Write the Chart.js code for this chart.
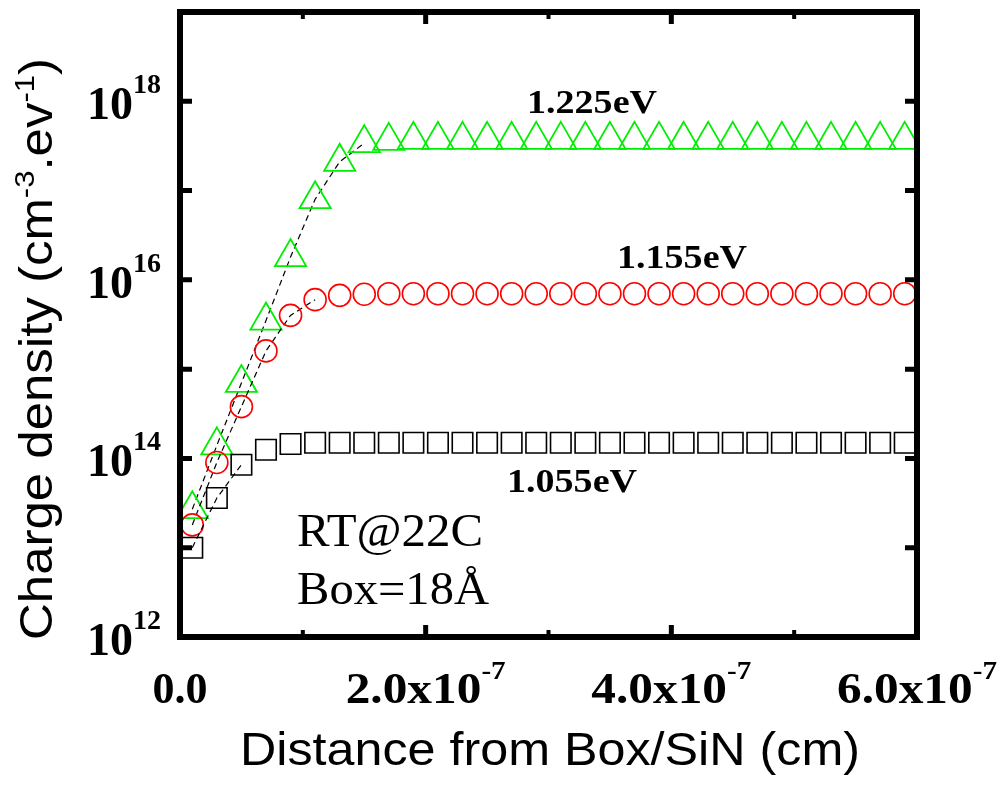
<!DOCTYPE html>
<html>
<head>
<meta charset="utf-8">
<script src="https://cdn.jsdelivr.net/npm/chart.js@4"></script>
<style>
  html, body { margin: 0; padding: 0; background: #fff; }
  #wrap { width: 1003px; height: 787px; }
</style>
</head>
<body>
<div id="wrap"><canvas id="chart" width="1003" height="787"></canvas></div>
<script>
// distance from the Box/SiN interface (cm)
const distance = [
  1e-8, 3e-8, 5e-8, 7e-8, 9e-8, 11e-8, 13e-8, 15e-8, 17e-8, 19e-8,
  21e-8, 23e-8, 25e-8, 27e-8, 29e-8, 31e-8, 33e-8, 35e-8, 37e-8, 39e-8,
  41e-8, 43e-8, 45e-8, 47e-8, 49e-8, 51e-8, 53e-8, 55e-8, 57e-8, 59e-8
];

// charge density (cm-3.eV-1) at each trap energy
const density1055 = [
  1.0e13, 3.6e13, 8.5e13, 1.25e14, 1.45e14, 1.5e14, 1.5e14, 1.5e14, 1.5e14, 1.5e14,
  1.5e14, 1.5e14, 1.5e14, 1.5e14, 1.5e14, 1.5e14, 1.5e14, 1.5e14, 1.5e14, 1.5e14,
  1.5e14, 1.5e14, 1.5e14, 1.5e14, 1.5e14, 1.5e14, 1.5e14, 1.5e14, 1.5e14, 1.5e14
];
const density1155 = [
  1.8e13, 9.0e13, 3.8e14, 1.6e15, 4.0e15, 6.0e15, 6.7e15, 6.9e15, 7.0e15, 7.0e15,
  7.0e15, 7.0e15, 7.0e15, 7.0e15, 7.0e15, 7.0e15, 7.0e15, 7.0e15, 7.0e15, 7.0e15,
  7.0e15, 7.0e15, 7.0e15, 7.0e15, 7.0e15, 7.0e15, 7.0e15, 7.0e15, 7.0e15, 7.0e15
];
const density1225 = [
  2.7e13, 1.4e14, 7.0e14, 3.5e15, 1.8e16, 8.0e16, 2.1e17, 3.4e17, 3.6e17, 3.7e17,
  3.7e17, 3.7e17, 3.7e17, 3.7e17, 3.7e17, 3.7e17, 3.7e17, 3.7e17, 3.7e17, 3.7e17,
  3.7e17, 3.7e17, 3.7e17, 3.7e17, 3.7e17, 3.7e17, 3.7e17, 3.7e17, 3.7e17, 3.7e17
];

const seriesLabels = ['1.055eV', '1.155eV', '1.225eV'];
const yTickExponents = ['12', '14', '16', '18'];
const xTickValues = [0, 2e-7, 4e-7, 6e-7];
const xTickMantissa = ['0.0', '2.0x10', '4.0x10', '6.0x10'];
const xTickExponent = ['', '-7', '-7', '-7'];

const SERIF = '"Liberation Serif", "Times New Roman", serif';
const SANS = '"Liberation Sans", Arial, sans-serif';

// draw a row of text runs (for superscripts), optionally squeezed/stretched to a width
function drawRuns(ctx, runs, x, y, opts) {
  opts = opts || {};
  ctx.save();
  let total = 0;
  runs.forEach(r => { ctx.font = r.font; r.w = ctx.measureText(r.t).width; total += r.w; });
  const s = opts.width ? opts.width / total : 1;
  ctx.translate(x, y);
  if (opts.rotate) ctx.rotate(opts.rotate);
  ctx.scale(s, 1);
  let cx = opts.align === 'center' ? -total / 2 : (opts.align === 'right' ? -total : 0);
  ctx.textAlign = 'left';
  ctx.textBaseline = 'alphabetic';
  ctx.fillStyle = '#000';
  runs.forEach(r => { ctx.font = r.font; ctx.fillText(r.t, cx, r.dy || 0); cx += r.w; });
  ctx.restore();
}

// dashed guide only along the rising part of each curve
const dashUntil = (n) => ({
  borderColor: c => (c.p0DataIndex < n ? '#000' : 'rgba(0,0,0,0)')
});

const framePlugin = {
  id: 'frame',
  afterDatasetsDraw(chart) {
    const { ctx, chartArea: a, scales } = chart;
    const x = scales.x, y = scales.y;
    ctx.save();
    ctx.strokeStyle = '#000';
    ctx.lineCap = 'butt';

    // y ticks, one per decade, on both sides
    ctx.lineWidth = 5;
    for (let e = 12; e <= 19; e++) {
      const py = y.getPixelForValue(Math.pow(10, e));
      ctx.beginPath();
      ctx.moveTo(a.left, py); ctx.lineTo(a.left + 12, py);
      ctx.moveTo(a.right, py); ctx.lineTo(a.right - 12, py);
      ctx.stroke();
    }
    // x ticks every 1e-7, top and bottom
    for (let i = 0; i <= 6; i++) {
      const px = x.getPixelForValue(i * 1e-7);
      const len = i % 2 === 0 ? 12 : 7;
      ctx.lineWidth = i % 2 === 0 ? 5 : 4;
      ctx.beginPath();
      ctx.moveTo(px, a.bottom); ctx.lineTo(px, a.bottom - len);
      ctx.moveTo(px, a.top); ctx.lineTo(px, a.top + len);
      ctx.stroke();
    }
    // frame
    ctx.lineWidth = 6;
    ctx.strokeRect(a.left, a.top, a.right - a.left, a.bottom - a.top);
    ctx.restore();

    // y tick labels 10^n
    yTickExponents.forEach(ex => {
      const py = y.getPixelForValue(Math.pow(10, Number(ex)));
      drawRuns(ctx, [
        { t: '10', font: 'bold 46px ' + SERIF },
        { t: ex, font: 'bold 28px ' + SERIF, dy: -26 }
      ], 161, py + 18, { align: 'right' });
    });

    // x tick labels
    xTickValues.forEach((v, i) => {
      const px = x.getPixelForValue(v);
      const runs = [{ t: xTickMantissa[i], font: 'bold 44px ' + SERIF }];
      if (xTickExponent[i]) runs.push({ t: xTickExponent[i], font: 'bold 26px ' + SERIF, dy: -24 });
      drawRuns(ctx, runs, px, 703, { align: 'center', width: xTickExponent[i] ? 160 : null });
    });

    // axis titles
    drawRuns(ctx, [{ t: 'Distance from Box/SiN (cm)', font: '46px ' + SANS }], 550, 765,
      { align: 'center', width: 620 });
    drawRuns(ctx, [
      { t: 'Charge density (cm', font: '46px ' + SANS },
      { t: '-3', font: '28px ' + SANS, dy: -18 },
      { t: '.ev', font: '46px ' + SANS },
      { t: '-1', font: '28px ' + SANS, dy: -18 },
      { t: ')', font: '46px ' + SANS }
    ], 52, 349, { align: 'center', width: 582, rotate: -Math.PI / 2 });

    // curve labels
    drawRuns(ctx, [{ t: seriesLabels[2], font: 'bold 34px ' + SERIF }], 527, 113, { width: 130 });
    drawRuns(ctx, [{ t: seriesLabels[1], font: 'bold 34px ' + SERIF }], 617, 268, { width: 130 });
    drawRuns(ctx, [{ t: seriesLabels[0], font: 'bold 34px ' + SERIF }], 507, 492, { width: 130 });

    // conditions
    drawRuns(ctx, [{ t: 'RT@22C', font: '46px ' + SERIF }], 297, 546, { width: 186 });
    drawRuns(ctx, [{ t: 'Box=18\u00C5', font: '46px ' + SERIF }], 297, 604, { width: 192 });
  }
};

new Chart(document.getElementById('chart'), {
  type: 'line',
  data: {
    labels: distance,
    datasets: [
      {
        label: seriesLabels[0],
        data: distance.map((d, i) => ({ x: d, y: density1055[i] })),
        pointStyle: 'rect', pointRadius: 14.5,
        pointBorderColor: '#000', pointBackgroundColor: 'rgba(0,0,0,0)', pointBorderWidth: 1.6,
        borderWidth: 1.2, borderDash: [6, 4], segment: dashUntil(2)
      },
      {
        label: seriesLabels[1],
        data: distance.map((d, i) => ({ x: d, y: density1155[i] })),
        pointStyle: 'circle', pointRadius: 11,
        pointBorderColor: '#ff0000', pointBackgroundColor: 'rgba(0,0,0,0)', pointBorderWidth: 1.6,
        borderWidth: 1.2, borderDash: [6, 4], segment: dashUntil(5)
      },
      {
        label: seriesLabels[2],
        data: distance.map((d, i) => ({ x: d, y: density1225[i] })),
        pointStyle: 'triangle', pointRadius: 18,
        pointBorderColor: '#00ee00', pointBackgroundColor: 'rgba(0,0,0,0)', pointBorderWidth: 1.8,
        borderWidth: 1.2, borderDash: [6, 4], segment: dashUntil(7)
      }
    ]
  },
  options: {
    responsive: false,
    animation: false,
    layout: { autoPadding: false, padding: { left: 180, top: 12, right: 86, bottom: 150 } },
    plugins: { legend: { display: false }, tooltip: { enabled: false } },
    elements: { line: { tension: 0, fill: false } },
    scales: {
      x: { type: 'linear', min: 0, max: 6e-7, display: false },
      y: { type: 'logarithmic', min: 1e12, max: 1e19, display: false }
    }
  },
  plugins: [framePlugin]
});
</script>
</body>
</html>
